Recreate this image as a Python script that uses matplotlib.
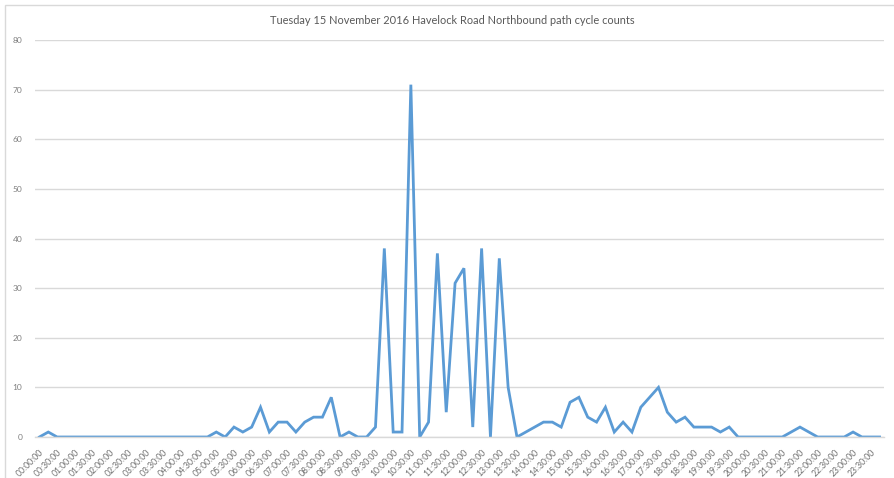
import matplotlib
matplotlib.use("Agg")
import matplotlib.pyplot as plt
from matplotlib.patches import Rectangle

# 15-minute interval cycle counts, 00:00 through 23:45
times = [f"{h:02d}:{m:02d}:00" for h in range(24) for m in (0, 15, 30, 45)]
counts = [
    0, 1, 0, 0, 0, 0, 0, 0, 0, 0, 0, 0, 0, 0, 0, 0, 0, 0, 0, 0,
    1, 0, 2, 1, 2, 6, 1, 3, 3, 1, 3, 4, 4, 8, 0, 1, 0, 0, 2, 38,
    1, 1, 71, 0, 3, 37, 5, 31, 34, 2, 38, 0, 36, 10, 0, 1, 2, 3, 3, 2,
    7, 8, 4, 3, 6, 1, 3, 1, 6, 8, 10, 5, 3, 4, 2, 2, 2, 1, 2, 0,
    0, 0, 0, 0, 0, 1, 2, 1, 0, 0, 0, 0, 1, 0, 0, 0,
]
title = "Tuesday 15 November 2016 Havelock Road Northbound path cycle counts"
y_ticks = [0, 10, 20, 30, 40, 50, 60, 70, 80]

plt.rcParams["font.family"] = ["Lato", "DejaVu Sans"]

W, H = 894, 478
fig = plt.figure(figsize=(W / 100, H / 100), dpi=100)
fig.patch.set_facecolor("white")

# light chart-area border
fig.patches.append(Rectangle((5 / W, -0.1), 1.2, 1 - 5 / H + 0.1,
                             transform=fig.transFigure, fill=False,
                             edgecolor="#d9d9d9", linewidth=1.0))

ax = fig.add_axes([35 / W, 41 / H, (884 - 35) / W, (437 - 40) / H])
x = list(range(len(counts)))
ax.plot(x, counts, color="#5b9bd5", linewidth=2.0, solid_joinstyle="miter")

ax.set_xlim(-0.5, len(counts) - 0.5)
ax.set_ylim(0, 80)
ax.set_yticks(y_ticks)
ax.set_yticklabels([str(v) for v in y_ticks], fontsize=6, color="#7f7f7f")
ax.yaxis.grid(True, color="#d9d9d9", linewidth=1.0)
ax.set_axisbelow(True)

ax.set_xticks(x[::2])
ax.set_xticklabels(times[::2], rotation=45, ha="right", rotation_mode="anchor",
                   fontsize=6.2, color="#6f6f6f")
ax.tick_params(axis="both", length=0)
ax.tick_params(axis="y", pad=9)
ax.tick_params(axis="x", pad=8)

for s in ("top", "right", "left"):
    ax.spines[s].set_visible(False)
ax.spines["bottom"].set_color("#d9d9d9")
ax.spines["bottom"].set_linewidth(1.0)

fig.text(452 / W, 1 - 20 / H, title, ha="center", va="center",
         fontsize=7.9, color="#595959")

fig.savefig("out.png", dpi=100, facecolor="white")
